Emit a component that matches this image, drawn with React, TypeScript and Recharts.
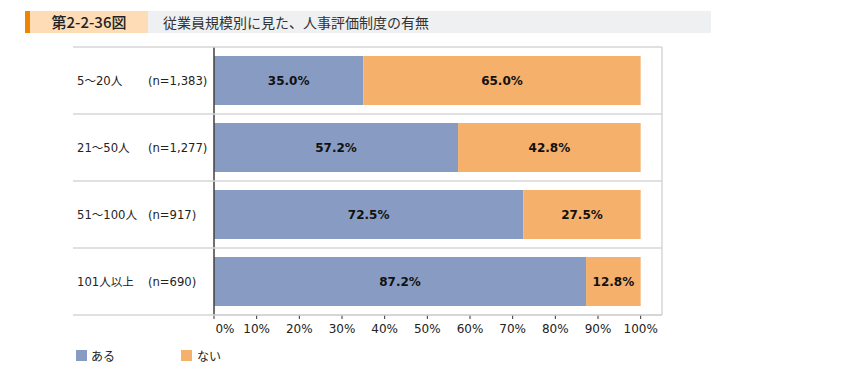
import { Bar, BarChart, LabelList, ReferenceLine, XAxis, YAxis } from "recharts";

const categories = ["5～20人", "21～50人", "51～100人", "101人以上"];
const sampleSizes = ["(n=1,383)", "(n=1,277)", "(n=917)", "(n=690)"];
const aruValues = [35.0, 57.2, 72.5, 87.2];
const naiValues = [65.0, 42.8, 27.5, 12.8];
const xTicks = [0, 10, 20, 30, 40, 50, 60, 70, 80, 90, 100];

const blue = "#889cc3";
const orange = "#f5b06c";
const gridGray = "#d6d6d6";
const fontStack = "'DejaVu Sans', 'Noto Sans CJK JP', sans-serif";
const cjkStack = "'Noto Sans CJK JP', sans-serif";

const rows = categories.map((name, i) => ({
  name,
  n: sampleSizes[i],
  aru: aruValues[i],
  nai: naiValues[i],
}));

const BAND = 67;

function RowTick({ y, payload, index }: { y?: number; payload?: { value: string }; index?: number }) {
  const cy = y ?? 0;
  const row = rows.find((r) => r.name === payload?.value);
  return (
    <g>
      {index === 0 ? (
        <line x1={73} x2={662} y1={cy - BAND / 2} y2={cy - BAND / 2} stroke={gridGray} strokeWidth={1.5} />
      ) : null}
      <line x1={73} x2={662} y1={cy + BAND / 2} y2={cy + BAND / 2} stroke={gridGray} strokeWidth={1.5} />
      <text x={77} y={cy} dy="0.35em" fontSize={11.6} fill="#222" fontFamily={fontStack}>
        {payload?.value}
      </text>
      <text x={148} y={cy} dy="0.35em" fontSize={11.6} fill="#222" fontFamily={fontStack}>
        {row?.n}
      </text>
    </g>
  );
}

// first label sits a little right of the axis, like the original
function PercentTick({ x, y, payload }: { x?: number; y?: number; payload?: { value: number } }) {
  const v = payload?.value ?? 0;
  return (
    <text
      x={(x ?? 0) + (v === 0 ? 11 : 0)}
      y={y ?? 0}
      dy="0.71em"
      textAnchor="middle"
      fontSize={12}
      fill="#222"
      fontFamily={fontStack}
    >
      {`${v}%`}
    </text>
  );
}

const pct = (v: unknown) => `${Number(v).toFixed(1)}%`;

export default function App() {
  return (
    <div style={{ position: "absolute", left: 0, top: 0, width: 848, height: 378, background: "#fff" }}>
      <div style={{ position: "absolute", left: 25, top: 11, width: 5, height: 22, background: "#f08300" }} />
      <div
        style={{
          position: "absolute",
          left: 30,
          top: 11,
          width: 118,
          height: 22,
          background: "#fddcb6",
          fontFamily: cjkStack,
          fontSize: 15,
          fontWeight: 500,
          lineHeight: "22px",
          textAlign: "center",
          color: "#222",
        }}
      >
        第2-2-36図
      </div>
      <div
        style={{
          position: "absolute",
          left: 148,
          top: 11,
          width: 563,
          height: 22,
          background: "#eef0f1",
          fontFamily: cjkStack,
          fontSize: 14,
          lineHeight: "22px",
          paddingLeft: 15,
          boxSizing: "border-box",
          color: "#333",
        }}
      >
        従業員規模別に見た、人事評価制度の有無
      </div>

      <div style={{ position: "absolute", left: 0, top: 0 }}>
        <BarChart
          width={848}
          height={378}
          data={rows}
          layout="vertical"
          margin={{ top: 47, right: 186, bottom: 33, left: 0 }}
        >
          <XAxis
            type="number"
            domain={[0, 105]}
            ticks={xTicks}
            height={30}
            axisLine={{ stroke: "#c8c8c8", strokeWidth: 1.5 }}
            tickLine={{ stroke: "#333" }}
            tickSize={4}
            tickMargin={5}
            tick={<PercentTick />}
          />
          <YAxis
            type="category"
            dataKey="name"
            width={214}
            axisLine={{ stroke: "#404040", strokeWidth: 1.5 }}
            tickLine={false}
            tick={<RowTick />}
          />
          <ReferenceLine x={105} stroke={gridGray} strokeWidth={1.5} />
          <Bar dataKey="aru" stackId="a" fill={blue} barSize={49} isAnimationActive={false}>
            <LabelList
              dataKey="aru"
              position="center"
              formatter={pct}
              style={{ fontSize: 12, fontWeight: "bold", fill: "#111", fontFamily: fontStack }}
            />
          </Bar>
          <Bar dataKey="nai" stackId="a" fill={orange} barSize={49} isAnimationActive={false}>
            <LabelList
              dataKey="nai"
              position="center"
              formatter={pct}
              style={{ fontSize: 12, fontWeight: "bold", fill: "#111", fontFamily: fontStack }}
            />
          </Bar>
        </BarChart>
      </div>

      <div style={{ position: "absolute", left: 76, top: 350, width: 11, height: 11, background: blue }} />
      <div
        style={{ position: "absolute", left: 91, top: 348, fontFamily: cjkStack, fontSize: 12, lineHeight: "16px", color: "#222" }}
      >
        ある
      </div>
      <div style={{ position: "absolute", left: 181, top: 350, width: 11, height: 11, background: orange }} />
      <div
        style={{ position: "absolute", left: 197, top: 348, fontFamily: cjkStack, fontSize: 12, lineHeight: "16px", color: "#222" }}
      >
        ない
      </div>
    </div>
  );
}
